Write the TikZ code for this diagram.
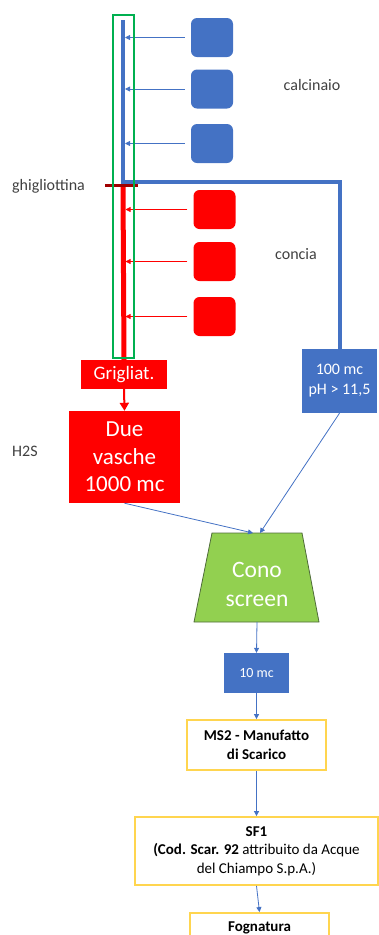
\documentclass[tikz,border=0pt]{standalone}
\usepackage{fontspec}
\setmainfont{Carlito}
\usetikzlibrary{arrows.meta}
\definecolor{pblue}{HTML}{4472C4}
\definecolor{pred}{HTML}{FF0000}
\definecolor{pgreen}{HTML}{00B050}
\definecolor{cgreen}{HTML}{92D050}
\definecolor{cedge}{HTML}{4F6B3A}
\definecolor{gdark}{HTML}{A00000}
\definecolor{pyellow}{HTML}{FFD54F}
\definecolor{lbl}{HTML}{404040}
\tikzset{
  tank/.style={fill=#1, draw=none, rounded corners=6pt, minimum width=42pt, minimum height=39pt},
  feed/.style={draw=#1, line width=0.8pt, -{Triangle[length=5pt,width=5pt]}},
  flow/.style={draw=pblue, line width=0.8pt, -{Triangle[length=5pt,width=5pt]}},
  pipe/.style={draw=#1, line width=4pt},
  solid box/.style={fill=#1, draw=none, text=white, align=center, inner sep=0pt},
  ybox/.style={draw=pyellow, line width=1.8pt, fill=white, align=center, inner sep=0pt, font=\fontsize{15}{18.5}\selectfont},
  lab/.style={text=lbl, inner sep=0pt, font=\fontsize{16}{19}\selectfont}
}
\begin{document}
\begin{tikzpicture}[x=1pt,y=-1pt]
\useasboundingbox (0,0) rectangle (379,935);
% tanks
\node[tank=pblue] (b1) at (212,37.5) {};
\node[tank=pblue] (b2) at (212,89) {};
\node[tank=pblue] (b3) at (212,143.5) {};
\node[tank=pred] (r1) at (214.5,209.5) {};
\node[tank=pred] (r2) at (214.5,261.5) {};
\node[tank=pred] (r3) at (214.5,316.5) {};
% boxes
\node[solid box=pred, minimum width=86pt, minimum height=29pt, font=\fontsize{19}{23}\selectfont] (grig) at (124,374.5) {Grigliat.};
\node[solid box=pred, minimum width=111pt, minimum height=92pt, font=\fontsize{23}{27.5}\selectfont] (due) at (124.5,457) {Due\\vasche\\1000 mc};
\node[solid box=pblue, minimum width=75pt, minimum height=64pt, font=\fontsize{16}{20}\selectfont] (hundred) at (339.5,381) {100 mc\\pH > 11,5};
\node[solid box=pblue, minimum width=65pt, minimum height=40pt, font=\fontsize{14}{17}\selectfont] (ten) at (256.5,673) {10 mc};
\node[ybox, minimum width=139pt, minimum height=50pt] (ms2) at (256.5,745) {\textbf{MS2 - Manufatto}\\\textbf{di Scarico}};
\node[ybox, minimum width=243pt, minimum height=68pt] (sf1) at (256.5,851) {\textbf{SF1}\\\textbf{(Cod. Scar. 92} attribuito da Acque\\del Chiampo S.p.A.)};
\node[ybox, minimum width=139pt, minimum height=30pt] (fog) at (259.5,928) {\textbf{Fognatura}};
% cono screen
\coordinate (ctl) at (212,533);
\coordinate (ctr) at (302,533);
\coordinate (cbr) at (319,622);
\coordinate (cbl) at (194,622);
\filldraw[fill=cgreen, draw=cedge, line width=0.8pt] (ctl) -- (ctr) -- (cbr) -- (cbl) -- cycle;
\node[text=white, align=center, inner sep=0pt, font=\fontsize{23.5}{29}\selectfont] (cono) at (257,584) {Cono\\screen};
\coordinate (conoinA) at (253,533);
\coordinate (conoinB) at (260,533);
\coordinate (conoout) at (257,622);
% pipes
\coordinate (ptop) at (123,20);
\coordinate (pcorner) at (123,182);
\coordinate (rtop) at (123,187);
\draw[pipe=pblue] (ptop) -- (pcorner) -| (hundred.north);
\draw[pipe=pred, line width=5pt] (rtop) -- (grig.north);
\coordinate (gl) at (105,185);
\coordinate (gr) at (138,185);
\draw[draw=gdark, line width=3pt] (gl) -- (gr);
% feed arrows
\foreach \t in {b1,b2,b3}{\draw[feed=pblue, shorten <=6pt, shorten >=2pt] (\t.west) -- (\t.west -| ptop);}
\foreach \t in {r1,r2,r3}{\draw[feed=pred, shorten <=6pt, shorten >=2.5pt] (\t.west) -- (\t.west -| ptop);}
% green frame
\coordinate (gfa) at (113,15);
\coordinate (gfb) at (134,358);
\draw[pgreen, line width=2.5pt] (gfa) rectangle (gfb);
% flows
\draw[pred, line width=2pt, -{Triangle[length=8pt,width=9pt]}] (grig.south) -- (due.north);
\draw[flow] (due.south) -- (conoinA);
\draw[flow] (hundred.south) -- (conoinB);
\draw[flow] (conoout) -- (ten.north);
\draw[flow] (ten.south) -- (ms2.north);
\draw[flow] (ms2.south) -- (sf1.north);
\draw[flow] (sf1.south) -- (fog.north);
% labels
\node[lab] (calc) at (312,85) {calcinaio};
\node[lab] (conc) at (296,254) {concia};
\node[lab, anchor=west] (ghig) at (12,186) {ghigliottina};
\node[lab, anchor=west] (h2s) at (12,451) {H2S};
\end{tikzpicture}
\end{document}
